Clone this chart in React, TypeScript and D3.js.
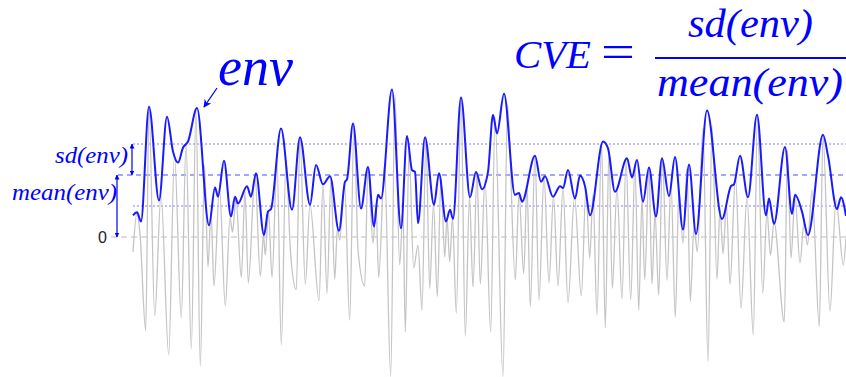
import React from 'react';
import * as d3 from 'd3';

// Envelope knots: time (samples) and amplitude
const envT = [0,4,8,16,26,34,40,45,50,55,64,76,82,85,91,98,102,105,114,118,123,131,135,138,148,159,167,177,183,190,197,206,212,214,220,228,235,241,245,248,259,268,274,279,282,285,292,301,306,313,317,320,328,337,343,349,355,360,364,371,382,386,389,402,408,412,420,427,430,435,442,447,452,457,470,475,482,494,499,504,510,516,523,529,536,542,550,556,563,574,589,598,601,607,615,624,633,636,641,652,659,662,669,675,690,695,704,708,713];
const envV = [0.35,0.40,0.25,2.10,0.59,1.94,1.38,1.20,1.44,1.54,2.08,0.19,0.80,0.65,1.23,0.33,0.65,0.54,0.82,0.65,1.03,0.03,0.41,0.45,1.75,0.44,1.61,0.52,1.16,0.85,0.98,0.10,0.89,0.93,1.83,0.46,1.13,0.17,0.68,0.62,2.38,0.14,1.63,1.08,1.05,0.22,1.61,0.52,1.03,0.25,0.44,0.29,2.25,0.64,1.05,0.77,1.05,1.97,1.67,2.31,0.68,0.71,0.57,1.31,0.89,0.98,0.65,0.82,0.79,1.08,0.62,0.99,0.82,0.35,1.54,1.43,0.73,1.27,0.96,1.24,0.57,1.12,0.33,1.27,0.66,1.29,0.12,1.17,0.05,2.04,0.29,0.82,0.85,1.31,0.64,1.97,0.35,0.62,0.21,1.45,0.37,0.68,0.41,0.03,1.65,1.31,0.45,0.64,0.34];

// Raw signal turning points: time (samples) and amplitude
const sigT = [0,4,7,12.7,16,21.7,28,35.7,41.5,48.3,53,58.3,63,67.3,71.5,75,78,81,86.5,92.3,97,99.5,103,108.3,112,115.3,122,127.3,130.5,132.3,135.5,139,144,148.3,153,157.5,163.3,167,172.3,177,186,190,194,198,201.7,204.5,206.7,211.5,216.7,221,225,231.7,235,240,243,245.7,251.5,257.7,262,266.7,270,272.3,276,280.7,285,289,293,296.7,300.5,304.3,308,311.7,314,316.7,319.5,323.3,328,332.3,336.5,340,344,347.3,352,357.7,362,370,374.5,382.3,386,390.7,394,397.3,402,406,411,416,420.5,425,430,435,441.5,448.3,453,456.7,460,464,468.5,472.3,476,479.3,484,489,493,497.7,502,505.7,509,511.7,516,519,522,525.7,529.5,534,538,542.3,546,550,554,557.3,561,564.3,570,575,579,584,587,590,593.5,597,602.5,608,614,620.3,624.5,629.7,634,637.5,641,651.3,654.5,658,662,667,671,674.5,679,686.3,690,697,703,710.3,713];
const sigV = [-0.24,0.39,0.05,-1.51,2.10,-1.27,0.68,-1.90,1.32,-1.30,1.50,-1.80,2.06,-2.08,1.16,-0.48,0.40,-0.79,0.79,-1.11,0.31,0.08,0.61,-0.65,0.73,-0.74,1.00,-0.63,0.02,-0.29,0.42,-0.65,1.24,-1.74,1.24,-0.24,-0.85,1.60,-0.76,0.52,-1.03,0.85,-0.91,0.95,-0.68,0.15,-0.05,0.89,-1.34,1.82,-0.21,-0.79,1.13,-0.10,0.52,-0.65,1.16,-2.25,2.29,-0.45,0.44,-1.53,1.40,-0.50,-0.13,-1.18,1.60,-0.83,0.53,-0.96,0.95,-0.32,0.31,-0.40,0.31,-1.23,2.24,-1.60,0.66,-0.81,1.03,-0.76,0.92,-1.53,1.92,-2.25,2.13,-0.69,0.71,-0.59,0.84,-1.12,1.31,-1.02,0.97,-0.74,0.66,-0.79,0.79,-1.06,0.65,-0.95,0.79,-0.34,0.68,-1.26,1.52,-1.46,1.40,-0.83,0.79,-1.00,1.24,-1.02,1.16,-1.18,0.63,-0.69,1.11,-0.76,0.40,-0.94,1.27,-0.70,0.87,-1.29,0.76,-0.10,1.11,-1.04,0.18,-0.24,1.76,-2.01,1.79,-0.68,0.47,-0.27,0.52,-0.76,0.98,-1.15,0.65,-1.58,1.95,-0.91,0.40,-0.29,0.24,-1.37,1.40,-0.34,0.66,-0.42,0.24,-0.13,0.76,-1.44,1.63,-1.20,0.60,-0.45,-0.02];

const MEAN_ENV = 1.0;
const SD_ENV = 0.5;
const T_MAX = 713;

const W = 846;
const H = 377;
const BLUE = '#0000ff';
const SERIF = '"Liberation Serif", "Times New Roman", serif';

export default function App() {
  const x = d3.scaleLinear().domain([0, T_MAX]).range([133, 846]);
  const y = d3.scaleLinear().domain([-2.5, 2.5]).range([392, 82]);

  const line = d3
    .line<[number, number]>()
    .x((d) => x(d[0]))
    .y((d) => y(d[1]))
    .curve(d3.curveMonotoneX);

  const envPath = line(envT.map((t, i) => [t, envV[i]] as [number, number])) || '';
  const sigPath = line(sigT.map((t, i) => [t, sigV[i]] as [number, number])) || '';

  const yMean = y(MEAN_ENV);
  const ySdHi = y(MEAN_ENV + SD_ENV);
  const ySdLo = y(MEAN_ENV - SD_ENV);
  const yZero = y(0);
  const xEnd = x(T_MAX);

  return (
    <svg
      width={W}
      height={H}
      style={{ position: 'absolute', left: 0, top: 0, background: '#fff' }}
    >
      <defs>
        <marker
          id="ah"
          viewBox="0 0 10 10"
          refX="9"
          refY="5"
          markerWidth="5"
          markerHeight="5"
          markerUnits="userSpaceOnUse"
          orient="auto-start-reverse"
        >
          <path d="M0,0 L10,5 L0,10 z" fill={BLUE} />
        </marker>
        <marker
          id="ahBig"
          viewBox="0 0 10 10"
          refX="9"
          refY="5"
          markerWidth="8"
          markerHeight="8"
          markerUnits="userSpaceOnUse"
          orient="auto"
        >
          <path d="M0,0 L10,5 L0,10 L3,5 z" fill={BLUE} />
        </marker>
      </defs>

      {/* reference levels */}
      <line x1={111} x2={xEnd} y1={yZero} y2={yZero} stroke="#bdbdbd" strokeWidth={1.2} strokeDasharray="6,4" />
      <line x1={118} x2={xEnd} y1={yMean} y2={yMean} stroke="#4d4dff" strokeWidth={1.2} strokeDasharray="5,4" />
      <line x1={133} x2={xEnd} y1={ySdHi} y2={ySdHi} stroke="#8080ff" strokeWidth={1.1} strokeDasharray="2,2" />
      <line x1={133} x2={xEnd} y1={ySdLo} y2={ySdLo} stroke="#8080ff" strokeWidth={1.1} strokeDasharray="2,2" />

      {/* raw signal */}
      <path d={sigPath} fill="none" stroke="#c4c4c4" strokeWidth={1.3} />

      {/* envelope */}
      <path d={envPath} fill="none" stroke="#1a1aff" strokeWidth={2} strokeLinejoin="round" />

      {/* zero label */}
      <text x={107} y={yZero + 6} textAnchor="end" fontFamily='"Liberation Sans", Arial, sans-serif' fontSize={16} fill="#222">0</text>

      {/* sd and mean annotations */}
      <line x1={132} x2={132} y1={ySdHi} y2={yMean} stroke={BLUE} strokeWidth={1.2} markerStart="url(#ah)" markerEnd="url(#ah)" />
      <line x1={117} x2={117} y1={yMean} y2={yZero} stroke={BLUE} strokeWidth={1.2} markerStart="url(#ah)" markerEnd="url(#ah)" />
      <text x={55} y={163} fontFamily={SERIF} fontStyle="italic" fontSize={23} fill={BLUE} textLength={73} lengthAdjust="spacingAndGlyphs">sd(env)</text>
      <text x={12} y={200} fontFamily={SERIF} fontStyle="italic" fontSize={23} fill={BLUE} textLength={105} lengthAdjust="spacingAndGlyphs">mean(env)</text>

      {/* envelope label */}
      <text x={218} y={85} fontFamily={SERIF} fontStyle="italic" fontSize={54} fill={BLUE} textLength={75} lengthAdjust="spacingAndGlyphs">env</text>
      <line x1={217} x2={204} y1={88} y2={107} stroke={BLUE} strokeWidth={1.3} markerEnd="url(#ahBig)" />

      {/* CVE formula */}
      <text x={514} y={68} fontFamily={SERIF} fontStyle="italic" fontSize={40} fill={BLUE} textLength={77} lengthAdjust="spacingAndGlyphs">CVE</text>
      <text x={601} y={67} fontFamily={SERIF} fontSize={46} fill={BLUE} textLength={34} lengthAdjust="spacingAndGlyphs">=</text>
      <line x1={655} x2={846} y1={58} y2={58} stroke={BLUE} strokeWidth={2} />
      <text x={688} y={37} fontFamily={SERIF} fontStyle="italic" fontSize={41} fill={BLUE} textLength={125} lengthAdjust="spacingAndGlyphs">sd(env)</text>
      <text x={657} y={96} fontFamily={SERIF} fontStyle="italic" fontSize={41} fill={BLUE} textLength={186} lengthAdjust="spacingAndGlyphs">mean(env)</text>
    </svg>
  );
}
